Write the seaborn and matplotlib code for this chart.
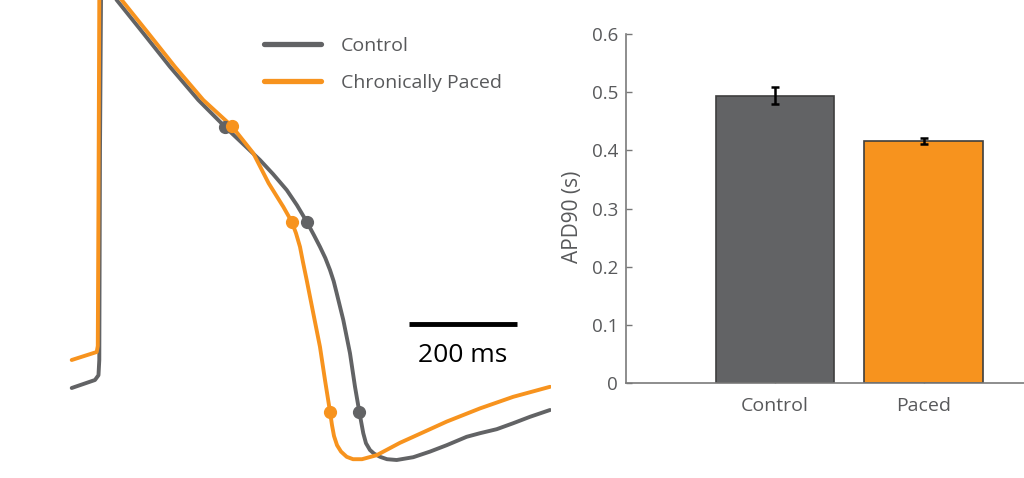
import numpy as np
import pandas as pd
import seaborn as sns
import matplotlib.pyplot as plt
from matplotlib.lines import Line2D

# 动作电位曲线 (时间 ms, 电压 mV)
control_t = [-48.7, -5.6, 0.9, 2.4, 3.7, 5.6, 9.3, 34.6, 83.9, 133.3, 185.8, 235.2,
             300.0, 324.1, 349.5, 368.5, 386.5, 400.0, 411.1, 421.0, 429.7, 436.5,
             442.1, 454.3, 466.7, 476.0, 483.9, 491.3, 496.3, 503.7, 511.2, 522.3,
             535.2, 553.2, 583.9, 614.9, 645.8, 682.8, 707.5, 738.4, 769.1, 800.1,
             837.1]
control_v = [-72.0, -70.0, -68.8, -65.0, -12.5, 25.0, 32.5, 25.0, 16.7, 8.3, 0.0, -6.7,
             -15.0, -18.5, -22.5, -26.3, -30.4, -33.8, -36.7, -39.5, -42.5, -45.3,
             -48.3, -55.0, -63.3, -71.7, -77.9, -83.3, -85.8, -87.5, -88.4, -89.2,
             -89.8, -90.0, -89.3, -87.9, -86.3, -84.2, -83.3, -82.3, -80.8, -79.2,
             -77.5]

paced_t = [-48.7, -2.4, -0.4, 0.9, 2.4, 5.6, 43.9, 93.2, 142.6, 195.0, 247.6, 287.6,
           316.0, 343.2, 358.7, 366.7, 374.1, 379.6, 386.5, 398.7, 411.1, 420.4,
           429.7, 433.4, 437.1, 442.7, 450.1, 460.6, 472.3, 489.0, 516.1, 559.3,
           583.9, 645.8, 707.5, 769.1, 837.1]
paced_v = [-65.0, -63.0, -61.5, -25.0, 25.0, 32.5, 25.0, 16.7, 8.3, 0.0, -6.5, -13.3,
           -20.8, -26.7, -30.4, -33.3, -36.7, -40.5, -45.0, -53.3, -61.7, -70.0,
           -77.9, -81.3, -84.0, -86.3, -87.9, -89.2, -89.8, -89.8, -88.8, -85.7,
           -84.2, -80.4, -77.1, -74.2, -71.7]

# APD30 / APD50 / APD90 标记点
control_mark_t = [235.2, 386.5, 483.9]
control_mark_v = [-6.7, -30.4, -77.9]
paced_mark_t = [247.6, 358.7, 429.7]
paced_mark_v = [-6.5, -30.4, -77.9]

# APD90 柱状图
groups = ["Control", "Paced"]
apd90 = [0.494, 0.416]
apd90_err = [0.0147, 0.0052]

gray = "#626365"
orange = "#F7931E"
text_gray = "#58595B"

sns.set_theme(style="white")
plt.rcParams['font.family'] = ['Open Sans', 'DejaVu Sans']

fig = plt.figure(figsize=(10.24, 4.78), dpi=100)

# ---- 左图: 动作电位 ----
ax1 = fig.add_axes([0, 0, 551 / 1024, 1])
traces = pd.concat([
    pd.DataFrame({"t": control_t, "v": control_v, "group": "Control"}),
    pd.DataFrame({"t": paced_t, "v": paced_v, "group": "Chronically Paced"}),
])
sns.lineplot(data=traces, x="t", y="v", hue="group", sort=False, estimator=None,
             palette={"Control": gray, "Chronically Paced": orange},
             linewidth=2.8, legend=False, ax=ax1)
for line in ax1.get_lines():
    line.set_solid_joinstyle('round')
ax1.plot(control_mark_t, control_mark_v, 'o', color=gray, markersize=8.5, zorder=3)
ax1.plot(paced_mark_t, paced_mark_v, 'o', color=orange, markersize=8.5, zorder=4)
ax1.set_xlim(-181.5, 839)
ax1.set_ylim(-94.5, 25)
ax1.axis('off')

# 比例尺
bar_start, bar_len, bar_v = 576, 200, -56
ax1.plot([bar_start, bar_start + bar_len], [bar_v, bar_v], color="black", linewidth=3.5,
         solid_capstyle='butt')
ax1.text(bar_start + bar_len / 2, bar_v - 4.8, "200 ms", ha='center', va='top',
         fontsize=19, color="black")

handles = [Line2D([], [], color=gray, linewidth=3.8),
           Line2D([], [], color=orange, linewidth=3.8)]
ax1.legend(handles, ["Control", "Chronically Paced"], loc='upper left',
           bbox_to_anchor=(254 / 1024, 1 - 27 / 478), bbox_transform=fig.transFigure,
           frameon=False, fontsize=14, labelcolor=text_gray, borderpad=0,
           handlelength=2.95, handletextpad=1.0, labelspacing=1.0)

# ---- 右图: APD90 ----
ax2 = fig.add_axes([626.3 / 1024, 95.3 / 478, 397.7 / 1024, 348.4 / 478])
sns.barplot(x=groups, y=apd90, hue=groups, palette=[gray, orange], width=0.8,
            saturation=1, edgecolor="#3E3E3E", linewidth=1.2, legend=False, ax=ax2)
ax2.errorbar(x=range(len(groups)), y=apd90, yerr=apd90_err, fmt='none',
             ecolor="black", elinewidth=1.8, capsize=3, capthick=1.8)
ax2.set_xlim(-1.0, 1.675)
ax2.set_ylim(0, 0.6)
ax2.set_yticks([0, 0.1, 0.2, 0.3, 0.4, 0.5, 0.6])
ax2.set_yticklabels(["0", "0.1", "0.2", "0.3", "0.4", "0.5", "0.6"])
ax2.set_ylabel("APD90 (s)", fontsize=15, color=text_gray)
ax2.yaxis.set_label_coords(-0.11, 0.476)
ax2.tick_params(axis='both', direction='in', length=4, width=1, color="#777777",
                labelsize=13.5, labelcolor=text_gray, left=True, bottom=True, pad=6)
ax2.tick_params(axis='x', labelsize=14, pad=10)
for side in ['top', 'right']:
    ax2.spines[side].set_visible(False)
for side in ['left', 'bottom']:
    ax2.spines[side].set_color("#7A7A7A")
    ax2.spines[side].set_linewidth(1.2)
ax2.set_facecolor("white")

plt.savefig("out.png", dpi=100)
